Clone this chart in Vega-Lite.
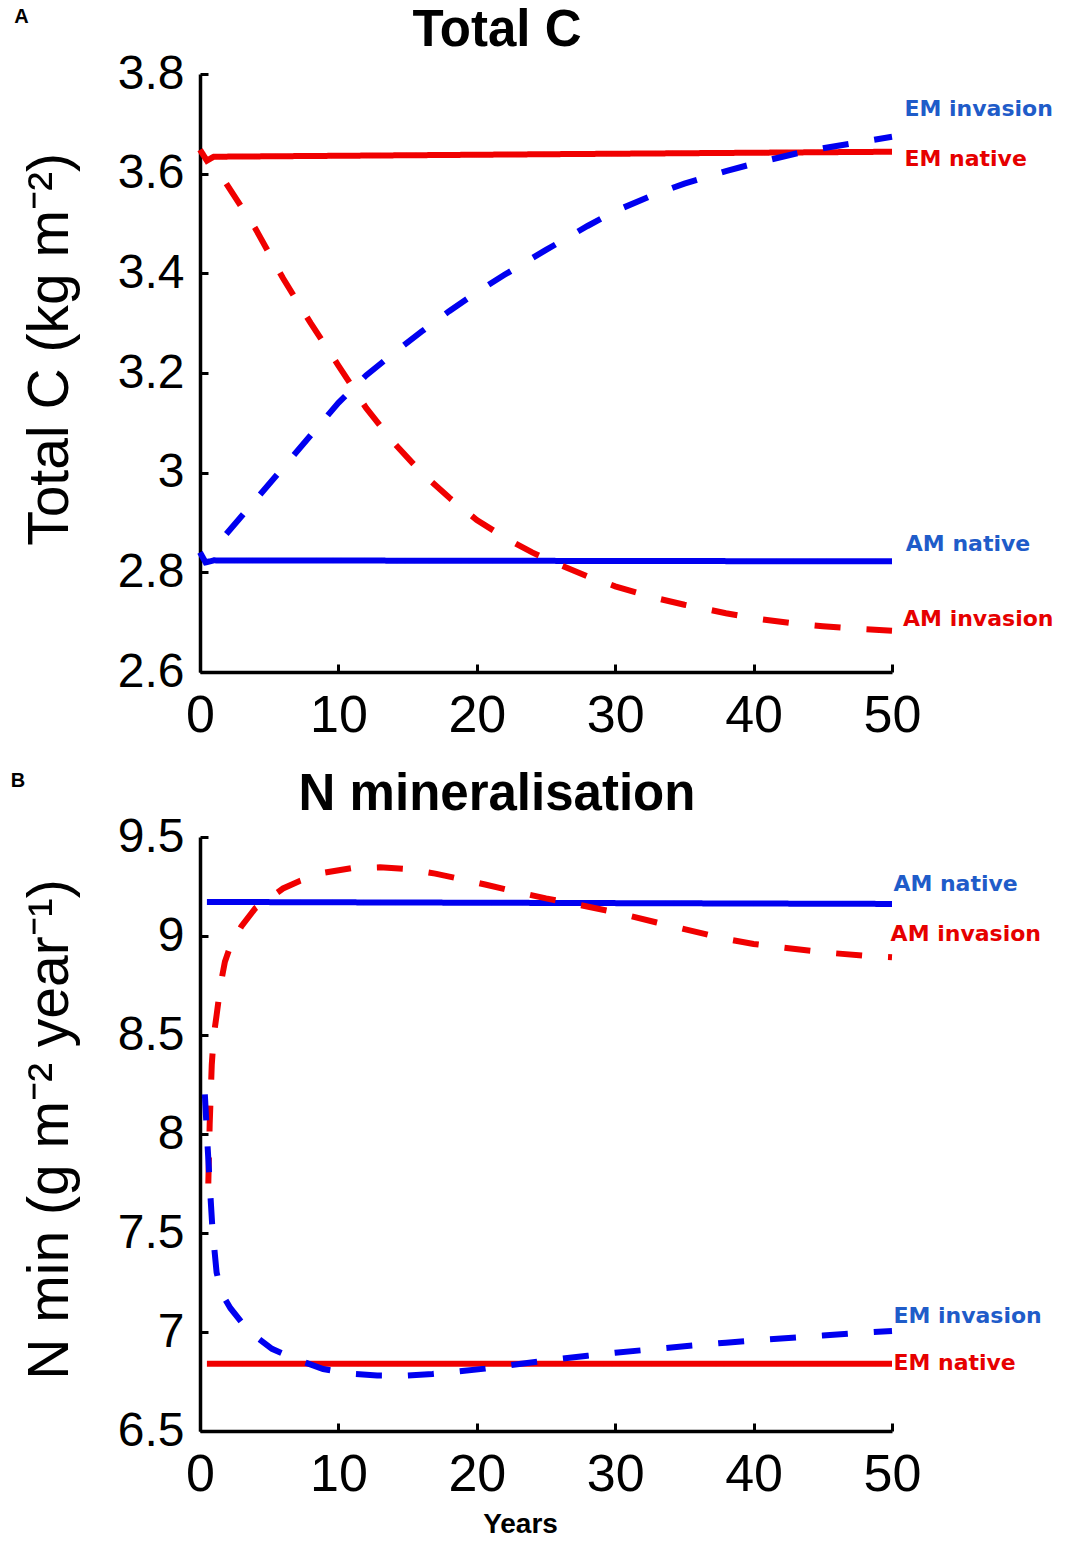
{
  "$schema": "https://vega.github.io/schema/vega-lite/v6.json",
  "background": "white",
  "padding": {"left": 10, "top": 5, "right": 0, "bottom": 0},
  "spacing": 27,
  "config": {
    "view": {"stroke": null},
    "font": "Liberation Sans",
    "axis": {
      "grid": false,
      "domainColor": "black",
      "domainWidth": 3.5,
      "tickColor": "black",
      "tickWidth": 3,
      "tickSize": -8,
      "labelColor": "black",
      "titleColor": "black",
      "labelFont": "Liberation Sans",
      "titleFont": "Liberation Sans",
      "labelFlush": false,
      "labelOverlap": false
    }
  },
  "datasets": {
    "totalC": [
      {"series": "EM native", "kind": "native", "x": 0, "y": 3.648},
      {"series": "EM native", "kind": "native", "x": 0.5, "y": 3.626},
      {"series": "EM native", "kind": "native", "x": 1, "y": 3.634},
      {"series": "EM native", "kind": "native", "x": 25, "y": 3.639},
      {"series": "EM native", "kind": "native", "x": 50, "y": 3.644},
      {"series": "AM native", "kind": "native", "x": 0, "y": 2.84},
      {"series": "AM native", "kind": "native", "x": 0.4, "y": 2.82},
      {"series": "AM native", "kind": "native", "x": 1, "y": 2.824},
      {"series": "AM native", "kind": "native", "x": 50, "y": 2.822},
      {"series": "EM invasion", "kind": "invasion", "x": 1.9, "y": 2.877},
      {"series": "EM invasion", "kind": "invasion", "x": 4, "y": 2.945},
      {"series": "EM invasion", "kind": "invasion", "x": 6, "y": 3.01},
      {"series": "EM invasion", "kind": "invasion", "x": 8, "y": 3.075},
      {"series": "EM invasion", "kind": "invasion", "x": 10, "y": 3.14},
      {"series": "EM invasion", "kind": "invasion", "x": 12, "y": 3.195},
      {"series": "EM invasion", "kind": "invasion", "x": 14, "y": 3.24},
      {"series": "EM invasion", "kind": "invasion", "x": 16, "y": 3.283},
      {"series": "EM invasion", "kind": "invasion", "x": 18, "y": 3.324},
      {"series": "EM invasion", "kind": "invasion", "x": 20, "y": 3.362},
      {"series": "EM invasion", "kind": "invasion", "x": 22, "y": 3.397},
      {"series": "EM invasion", "kind": "invasion", "x": 25, "y": 3.447},
      {"series": "EM invasion", "kind": "invasion", "x": 28, "y": 3.495},
      {"series": "EM invasion", "kind": "invasion", "x": 30, "y": 3.525},
      {"series": "EM invasion", "kind": "invasion", "x": 33, "y": 3.56},
      {"series": "EM invasion", "kind": "invasion", "x": 35, "y": 3.58},
      {"series": "EM invasion", "kind": "invasion", "x": 38, "y": 3.605},
      {"series": "EM invasion", "kind": "invasion", "x": 40, "y": 3.62},
      {"series": "EM invasion", "kind": "invasion", "x": 43, "y": 3.64},
      {"series": "EM invasion", "kind": "invasion", "x": 45, "y": 3.651},
      {"series": "EM invasion", "kind": "invasion", "x": 48, "y": 3.665},
      {"series": "EM invasion", "kind": "invasion", "x": 50, "y": 3.674},
      {"series": "AM invasion", "kind": "invasion", "x": 1.9, "y": 3.58},
      {"series": "AM invasion", "kind": "invasion", "x": 4, "y": 3.49},
      {"series": "AM invasion", "kind": "invasion", "x": 6, "y": 3.39},
      {"series": "AM invasion", "kind": "invasion", "x": 8, "y": 3.3},
      {"series": "AM invasion", "kind": "invasion", "x": 10, "y": 3.215},
      {"series": "AM invasion", "kind": "invasion", "x": 12, "y": 3.13},
      {"series": "AM invasion", "kind": "invasion", "x": 14, "y": 3.06},
      {"series": "AM invasion", "kind": "invasion", "x": 16, "y": 3.0},
      {"series": "AM invasion", "kind": "invasion", "x": 18, "y": 2.95},
      {"series": "AM invasion", "kind": "invasion", "x": 20, "y": 2.905},
      {"series": "AM invasion", "kind": "invasion", "x": 22, "y": 2.87},
      {"series": "AM invasion", "kind": "invasion", "x": 24, "y": 2.84},
      {"series": "AM invasion", "kind": "invasion", "x": 26, "y": 2.815},
      {"series": "AM invasion", "kind": "invasion", "x": 28, "y": 2.792},
      {"series": "AM invasion", "kind": "invasion", "x": 30, "y": 2.772},
      {"series": "AM invasion", "kind": "invasion", "x": 33, "y": 2.748},
      {"series": "AM invasion", "kind": "invasion", "x": 35, "y": 2.735},
      {"series": "AM invasion", "kind": "invasion", "x": 38, "y": 2.718},
      {"series": "AM invasion", "kind": "invasion", "x": 40, "y": 2.708},
      {"series": "AM invasion", "kind": "invasion", "x": 43, "y": 2.697},
      {"series": "AM invasion", "kind": "invasion", "x": 45, "y": 2.692},
      {"series": "AM invasion", "kind": "invasion", "x": 48, "y": 2.686},
      {"series": "AM invasion", "kind": "invasion", "x": 50, "y": 2.683}
    ],
    "labelsA": [
      {"series": "EM invasion", "x": 50.9, "y": 3.73},
      {"series": "EM native", "x": 50.9, "y": 3.629},
      {"series": "AM native", "x": 51.0, "y": 2.856},
      {"series": "AM invasion", "x": 50.8, "y": 2.706}
    ],
    "cornerA": [{"label": "A", "x": -12.9, "y": 3.914}],
    "nmin": [
      {"series": "AM native", "kind": "native", "x": 0.5, "y": 9.172},
      {"series": "AM native", "kind": "native", "x": 50, "y": 9.162},
      {"series": "EM native", "kind": "native", "x": 0.5, "y": 6.84},
      {"series": "EM native", "kind": "native", "x": 50, "y": 6.84},
      {"series": "AM invasion", "kind": "invasion", "x": 0.6, "y": 7.75},
      {"series": "AM invasion", "kind": "invasion", "x": 0.7, "y": 8.05},
      {"series": "AM invasion", "kind": "invasion", "x": 0.85, "y": 8.35},
      {"series": "AM invasion", "kind": "invasion", "x": 1.0, "y": 8.5},
      {"series": "AM invasion", "kind": "invasion", "x": 1.2, "y": 8.6},
      {"series": "AM invasion", "kind": "invasion", "x": 1.5, "y": 8.76},
      {"series": "AM invasion", "kind": "invasion", "x": 1.8, "y": 8.87},
      {"series": "AM invasion", "kind": "invasion", "x": 2.2, "y": 8.95},
      {"series": "AM invasion", "kind": "invasion", "x": 3, "y": 9.05},
      {"series": "AM invasion", "kind": "invasion", "x": 4, "y": 9.14},
      {"series": "AM invasion", "kind": "invasion", "x": 5, "y": 9.19},
      {"series": "AM invasion", "kind": "invasion", "x": 6, "y": 9.24},
      {"series": "AM invasion", "kind": "invasion", "x": 7.2, "y": 9.278},
      {"series": "AM invasion", "kind": "invasion", "x": 9, "y": 9.32},
      {"series": "AM invasion", "kind": "invasion", "x": 11, "y": 9.343},
      {"series": "AM invasion", "kind": "invasion", "x": 13, "y": 9.347},
      {"series": "AM invasion", "kind": "invasion", "x": 15, "y": 9.338},
      {"series": "AM invasion", "kind": "invasion", "x": 17, "y": 9.315},
      {"series": "AM invasion", "kind": "invasion", "x": 18.8, "y": 9.288},
      {"series": "AM invasion", "kind": "invasion", "x": 20.6, "y": 9.26},
      {"series": "AM invasion", "kind": "invasion", "x": 22.6, "y": 9.227},
      {"series": "AM invasion", "kind": "invasion", "x": 25, "y": 9.19},
      {"series": "AM invasion", "kind": "invasion", "x": 27, "y": 9.163},
      {"series": "AM invasion", "kind": "invasion", "x": 30, "y": 9.12},
      {"series": "AM invasion", "kind": "invasion", "x": 33, "y": 9.068},
      {"series": "AM invasion", "kind": "invasion", "x": 35, "y": 9.035},
      {"series": "AM invasion", "kind": "invasion", "x": 38, "y": 8.985},
      {"series": "AM invasion", "kind": "invasion", "x": 40, "y": 8.96},
      {"series": "AM invasion", "kind": "invasion", "x": 42, "y": 8.942},
      {"series": "AM invasion", "kind": "invasion", "x": 45, "y": 8.918},
      {"series": "AM invasion", "kind": "invasion", "x": 48, "y": 8.9},
      {"series": "AM invasion", "kind": "invasion", "x": 50, "y": 8.893},
      {"series": "EM invasion", "kind": "invasion", "x": 0.35, "y": 8.2},
      {"series": "EM invasion", "kind": "invasion", "x": 0.5, "y": 8.0},
      {"series": "EM invasion", "kind": "invasion", "x": 0.7, "y": 7.75},
      {"series": "EM invasion", "kind": "invasion", "x": 0.9, "y": 7.52},
      {"series": "EM invasion", "kind": "invasion", "x": 1.2, "y": 7.3},
      {"series": "EM invasion", "kind": "invasion", "x": 1.6, "y": 7.19},
      {"series": "EM invasion", "kind": "invasion", "x": 2.2, "y": 7.12},
      {"series": "EM invasion", "kind": "invasion", "x": 3, "y": 7.05},
      {"series": "EM invasion", "kind": "invasion", "x": 3.6, "y": 7.0},
      {"series": "EM invasion", "kind": "invasion", "x": 5.2, "y": 6.915},
      {"series": "EM invasion", "kind": "invasion", "x": 6.9, "y": 6.864},
      {"series": "EM invasion", "kind": "invasion", "x": 8.9, "y": 6.813},
      {"series": "EM invasion", "kind": "invasion", "x": 10.7, "y": 6.79},
      {"series": "EM invasion", "kind": "invasion", "x": 12.8, "y": 6.78},
      {"series": "EM invasion", "kind": "invasion", "x": 14.7, "y": 6.779},
      {"series": "EM invasion", "kind": "invasion", "x": 16.8, "y": 6.788},
      {"series": "EM invasion", "kind": "invasion", "x": 18.6, "y": 6.8},
      {"series": "EM invasion", "kind": "invasion", "x": 20.6, "y": 6.815},
      {"series": "EM invasion", "kind": "invasion", "x": 22.4, "y": 6.832},
      {"series": "EM invasion", "kind": "invasion", "x": 25, "y": 6.856},
      {"series": "EM invasion", "kind": "invasion", "x": 28, "y": 6.88},
      {"series": "EM invasion", "kind": "invasion", "x": 30, "y": 6.895},
      {"series": "EM invasion", "kind": "invasion", "x": 33, "y": 6.915},
      {"series": "EM invasion", "kind": "invasion", "x": 35, "y": 6.928},
      {"series": "EM invasion", "kind": "invasion", "x": 38, "y": 6.946},
      {"series": "EM invasion", "kind": "invasion", "x": 41, "y": 6.963},
      {"series": "EM invasion", "kind": "invasion", "x": 45, "y": 6.982},
      {"series": "EM invasion", "kind": "invasion", "x": 48, "y": 6.997},
      {"series": "EM invasion", "kind": "invasion", "x": 50, "y": 7.005}
    ],
    "labelsB": [
      {"series": "AM native", "x": 50.1, "y": 9.263},
      {"series": "AM invasion", "x": 49.9, "y": 9.01},
      {"series": "EM invasion", "x": 50.1, "y": 7.081},
      {"series": "EM native", "x": 50.1, "y": 6.843}
    ],
    "cornerB": [{"label": "B", "x": -13.15, "y": 9.783}]
  },
  "vconcat": [
    {
      "width": 692,
      "height": 598,
      "title": {"text": "Total C", "fontSize": 51, "fontWeight": "bold", "font": "Liberation Sans", "color": "black", "anchor": "middle", "dx": -49, "offset": -50},
      "resolve": {"scale": {"color": "independent"}},
      "layer": [
        {
          "data": {"name": "totalC"},
          "mark": {"type": "line", "strokeWidth": 6, "clip": false},
          "encoding": {
            "x": {"field": "x", "type": "quantitative", "scale": {"domain": [0, 50], "nice": false},
              "axis": {"values": [0, 10, 20, 30, 40, 50], "title": null, "labelFontSize": 52, "labelPadding": 26}},
            "y": {"field": "y", "type": "quantitative", "scale": {"domain": [2.6, 3.8], "nice": false, "zero": false},
              "axis": {"values": [2.6, 2.8, 3, 3.2, 3.4, 3.6, 3.8], "format": ".1~f", "title": "Total C (kg m⁻²)", "titleFontSize": 57, "titleFontWeight": "normal", "titlePadding": 38, "titleY": 275, "labelFontSize": 48, "labelPadding": 24}},
            "color": {"field": "series", "type": "nominal", "legend": null,
              "scale": {"domain": ["EM native", "EM invasion", "AM native", "AM invasion"], "range": ["#f00000", "#0000f0", "#0000f0", "#f00000"]}},
            "strokeDash": {"field": "kind", "type": "nominal", "legend": null,
              "scale": {"domain": ["native", "invasion"], "range": [[1, 0], [26, 26]]}},
            "detail": {"field": "series"},
            "order": {"field": "x", "type": "quantitative"}
          }
        },
        {
          "data": {"name": "labelsA"},
          "mark": {"type": "text", "align": "left", "baseline": "middle", "font": "DejaVu Sans", "fontWeight": "bold", "fontSize": 22},
          "encoding": {
            "x": {"field": "x", "type": "quantitative"},
            "y": {"field": "y", "type": "quantitative"},
            "text": {"field": "series"},
            "color": {"field": "series", "type": "nominal", "legend": null,
              "scale": {"domain": ["EM native", "EM invasion", "AM native", "AM invasion"], "range": ["#e60000", "#1f5cc9", "#1f5cc9", "#e60000"]}}
          }
        },
        {
          "data": {"name": "cornerA"},
          "mark": {"type": "text", "align": "center", "baseline": "middle", "font": "Liberation Sans", "fontWeight": "bold", "fontSize": 20, "color": "black"},
          "encoding": {
            "x": {"field": "x", "type": "quantitative"},
            "y": {"field": "y", "type": "quantitative"},
            "text": {"field": "label"}
          }
        }
      ]
    },
    {
      "width": 692,
      "height": 594,
      "title": {"text": "N mineralisation", "fontSize": 51, "fontWeight": "bold", "font": "Liberation Sans", "color": "black", "anchor": "middle", "dx": -49, "offset": -50},
      "resolve": {"scale": {"color": "independent"}},
      "layer": [
        {
          "data": {"name": "nmin"},
          "mark": {"type": "line", "strokeWidth": 6, "clip": false},
          "encoding": {
            "x": {"field": "x", "type": "quantitative", "scale": {"domain": [0, 50], "nice": false},
              "axis": {"values": [0, 10, 20, 30, 40, 50], "title": "Years", "titleFontSize": 28, "titleFontWeight": "bold", "titlePadding": 10, "titleX": 320, "labelFontSize": 52, "labelPadding": 26}},
            "y": {"field": "y", "type": "quantitative", "scale": {"domain": [6.5, 9.5], "nice": false, "zero": false},
              "axis": {"values": [6.5, 7, 7.5, 8, 8.5, 9, 9.5], "format": ".1~f", "title": "N min (g m⁻² year⁻¹)", "titleFontSize": 57, "titleFontWeight": "normal", "titlePadding": 38, "titleY": 292, "labelFontSize": 48, "labelPadding": 24}},
            "color": {"field": "series", "type": "nominal", "legend": null,
              "scale": {"domain": ["EM native", "EM invasion", "AM native", "AM invasion"], "range": ["#f00000", "#0000f0", "#0000f0", "#f00000"]}},
            "strokeDash": {"field": "kind", "type": "nominal", "legend": null,
              "scale": {"domain": ["native", "invasion"], "range": [[1, 0], [26, 26]]}},
            "detail": {"field": "series"},
            "order": {"field": "x", "type": "quantitative"}
          }
        },
        {
          "data": {"name": "labelsB"},
          "mark": {"type": "text", "align": "left", "baseline": "middle", "font": "DejaVu Sans", "fontWeight": "bold", "fontSize": 22},
          "encoding": {
            "x": {"field": "x", "type": "quantitative"},
            "y": {"field": "y", "type": "quantitative"},
            "text": {"field": "series"},
            "color": {"field": "series", "type": "nominal", "legend": null,
              "scale": {"domain": ["EM native", "EM invasion", "AM native", "AM invasion"], "range": ["#e60000", "#1f5cc9", "#1f5cc9", "#e60000"]}}
          }
        },
        {
          "data": {"name": "cornerB"},
          "mark": {"type": "text", "align": "center", "baseline": "middle", "font": "Liberation Sans", "fontWeight": "bold", "fontSize": 20, "color": "black"},
          "encoding": {
            "x": {"field": "x", "type": "quantitative"},
            "y": {"field": "y", "type": "quantitative"},
            "text": {"field": "label"}
          }
        }
      ]
    }
  ]
}
